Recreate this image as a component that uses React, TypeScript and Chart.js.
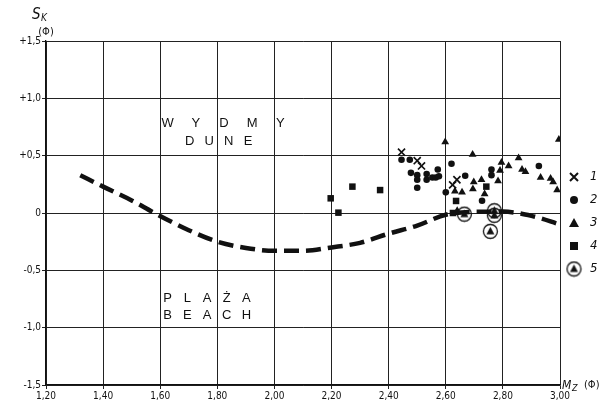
import React, { useEffect, useRef } from 'react';
import { Chart, registerables } from 'chart.js';

Chart.register(...registerables);

const xTickLabels = ['1,20', '1,40', '1,60', '1,80', '2,00', '2,20', '2,40', '2,60', '2,80', '3,00'];
const yTickLabels = ['-1,5', '-1,0', '-0,5', '0', '+0,5', '+1,0', '+1,5'];

const curveX = [1.32, 1.40, 1.50, 1.58, 1.70, 1.80, 1.90, 2.00, 2.10, 2.20, 2.30, 2.40, 2.50, 2.60, 2.70, 2.80, 2.90, 3.00];
const curveY = [0.33, 0.23, 0.11, 0.0, -0.15, -0.25, -0.305, -0.33, -0.33, -0.30, -0.26, -0.18, -0.11, -0.015, 0.01, 0.012, -0.025, -0.10];

const s1X = [2.445, 2.50, 2.515, 2.624, 2.639];
const s1Y = [0.53, 0.456, 0.41, 0.245, 0.29];

const s2X = [2.445, 2.474, 2.478, 2.50, 2.50, 2.533, 2.533, 2.553, 2.565, 2.576, 2.572, 2.50, 2.60, 2.62, 2.668, 2.76, 2.76, 2.727, 2.926];
const s2Y = [0.465, 0.465, 0.35, 0.33, 0.29, 0.34, 0.29, 0.31, 0.31, 0.32, 0.38, 0.22, 0.18, 0.43, 0.325, 0.38, 0.33, 0.107, 0.41];

const s3X = [2.598, 2.694, 2.795, 2.79, 2.783, 2.698, 2.725, 2.695, 2.632, 2.657, 2.736, 2.64, 2.996, 2.855, 2.82, 2.867, 2.879, 2.932, 2.967, 2.976, 2.99];
const s3Y = [0.62, 0.51, 0.44, 0.37, 0.28, 0.27, 0.29, 0.21, 0.19, 0.18, 0.165, 0.02, 0.64, 0.48, 0.41, 0.38, 0.36, 0.31, 0.30, 0.27, 0.20];

const s4X = [2.197, 2.224, 2.273, 2.37, 2.636, 2.742, 2.625];
const s4Y = [0.128, 0.003, 0.23, 0.20, 0.105, 0.23, 0.0];

const s5X = [2.665, 2.77, 2.77, 2.756];
const s5Y = [-0.01, 0.02, -0.02, -0.16];

const legendLabels = ['1', '2', '3', '4', '5'];

const toPts = (xs: number[], ys: number[]) => xs.map((x, i) => ({ x, y: ys[i] }));

function makeCircledTriangle(): HTMLCanvasElement {
  const c = document.createElement('canvas');
  c.width = 17;
  c.height = 17;
  const g = c.getContext('2d')!;
  g.strokeStyle = '#111';
  g.lineWidth = 1.3;
  g.beginPath();
  g.arc(8.5, 8.5, 7, 0, Math.PI * 2);
  g.stroke();
  g.fillStyle = '#111';
  g.beginPath();
  g.moveTo(8.5, 4);
  g.lineTo(12.5, 11.5);
  g.lineTo(4.5, 11.5);
  g.closePath();
  g.fill();
  return c;
}

function drawMarker(ctx: CanvasRenderingContext2D, kind: number, x: number, y: number, ct: HTMLCanvasElement) {
  ctx.save();
  ctx.fillStyle = '#111';
  ctx.strokeStyle = '#111';
  if (kind === 0) {
    ctx.lineWidth = 2;
    ctx.beginPath();
    ctx.moveTo(x - 4, y - 4);
    ctx.lineTo(x + 4, y + 4);
    ctx.moveTo(x + 4, y - 4);
    ctx.lineTo(x - 4, y + 4);
    ctx.stroke();
  } else if (kind === 1) {
    ctx.beginPath();
    ctx.arc(x, y, 4, 0, Math.PI * 2);
    ctx.fill();
  } else if (kind === 2) {
    ctx.beginPath();
    ctx.moveTo(x, y - 5);
    ctx.lineTo(x + 5, y + 4);
    ctx.lineTo(x - 5, y + 4);
    ctx.closePath();
    ctx.fill();
  } else if (kind === 3) {
    ctx.fillRect(x - 4, y - 4, 8, 8);
  } else {
    ctx.drawImage(ct, x - 8.5, y - 8.5);
  }
  ctx.restore();
}

export default function App() {
  const ref = useRef<HTMLCanvasElement | null>(null);

  useEffect(() => {
    document.body.style.margin = '0';
    const canvas = ref.current;
    if (!canvas) return;
    const circledTri = makeCircledTriangle();
    const tickFont = { family: '"DejaVu Sans Condensed", "DejaVu Sans", sans-serif', size: 10 };

    const textPlugin = {
      id: 'texts',
      afterDraw(chart: any) {
        const ctx: CanvasRenderingContext2D = chart.ctx;
        const xs = chart.scales.x;
        const ys = chart.scales.y;
        const area = chart.chartArea;
        ctx.save();
        ctx.fillStyle = '#111';
        ctx.textAlign = 'center';
        ctx.textBaseline = 'middle';
        ctx.font = '13px "Liberation Sans", sans-serif';
        const spaced = (txt: string, xv: number, yv: number, step: number) => {
          const x0 = xs.getPixelForValue(xv);
          const y0 = ys.getPixelForValue(yv);
          for (let i = 0; i < txt.length; i++) ctx.fillText(txt[i], x0 + i * step, y0);
        };
        spaced('WYDMY', 1.626, 0.785, 28.2);
        spaced('DUNE', 1.703, 0.62, 19.5);
        spaced('PLAŻA', 1.626, -0.745, 19.7);
        spaced('BEACH', 1.626, -0.89, 19.7);

        // y axis title
        ctx.textAlign = 'left';
        ctx.font = 'italic 15px "DejaVu Sans Condensed", sans-serif';
        ctx.fillText('S', area.left - 14, 15);
        ctx.font = 'italic 10px "DejaVu Sans Condensed", sans-serif';
        ctx.fillText('K', area.left - 5, 18);
        ctx.font = '11px "DejaVu Sans Condensed", sans-serif';
        ctx.textAlign = 'center';
        ctx.fillText('(Φ)', area.left, 32);

        // x axis title
        ctx.textAlign = 'left';
        ctx.font = 'italic 12px "DejaVu Sans Condensed", sans-serif';
        ctx.fillText('M', area.right + 2, area.bottom + 1);
        ctx.font = 'italic 9px "DejaVu Sans Condensed", sans-serif';
        ctx.fillText('Z', area.right + 12, area.bottom + 4);
        ctx.font = '11px "DejaVu Sans Condensed", sans-serif';
        ctx.fillText('(Φ)', area.right + 24, area.bottom);

        // legend
        for (let i = 0; i < legendLabels.length; i++) {
          const ly = 177 + i * 23;
          drawMarker(ctx, i, area.right + 14, ly, circledTri);
          ctx.font = 'italic 13px "DejaVu Sans Condensed", sans-serif';
          ctx.textAlign = 'left';
          ctx.fillStyle = '#111';
          ctx.fillText(legendLabels[i], area.right + 30, ly);
        }
        ctx.restore();
      },
    };

    const chart = new Chart(canvas, {
      type: 'scatter',
      data: {
        datasets: [
          {
            data: toPts(curveX, curveY),
            showLine: true,
            borderColor: '#111',
            borderWidth: 4.5,
            borderDash: [15, 7],
            borderCapStyle: 'butt',
            cubicInterpolationMode: 'monotone',
            pointRadius: 0,
            order: 5,
          } as any,
          { data: toPts(s1X, s1Y), pointStyle: 'crossRot', pointRadius: 5, borderColor: '#111', borderWidth: 1.7, backgroundColor: '#111' },
          { data: toPts(s2X, s2Y), pointStyle: 'circle', pointRadius: 3.3, borderWidth: 0, backgroundColor: '#111' },
          { data: toPts(s3X, s3Y), pointStyle: 'triangle', pointRadius: 4.5, borderWidth: 0, backgroundColor: '#111' },
          { data: toPts(s4X, s4Y), pointStyle: 'rect', pointRadius: 4.6, borderWidth: 0, backgroundColor: '#111' },
          { data: toPts(s5X, s5Y), pointStyle: circledTri, pointRadius: 8, borderWidth: 0, backgroundColor: '#111' },
        ],
      },
      options: {
        animation: false,
        responsive: false,
        maintainAspectRatio: false,
        layout: { padding: { top: 41, right: 51, bottom: 0, left: 0 } },
        plugins: { legend: { display: false }, tooltip: { enabled: false } },
        scales: {
          x: {
            type: 'linear',
            min: 1.2,
            max: 3.0,
            afterFit: (s: any) => { s.height = 22; },
            ticks: {
              stepSize: 0.2,
              autoSkip: false,
              maxRotation: 0,
              padding: 1,
              color: '#111',
              font: tickFont,
              callback: (_v: any, i: number) => xTickLabels[i],
            },
            grid: { color: '#222', lineWidth: 1, tickLength: 4 },
            border: { color: '#111', width: 1.3 },
          },
          y: {
            type: 'linear',
            min: -1.5,
            max: 1.5,
            afterFit: (s: any) => { s.width = 46; },
            ticks: {
              stepSize: 0.5,
              padding: 1,
              color: '#111',
              font: tickFont,
              callback: (_v: any, i: number) => yTickLabels[i],
            },
            grid: { color: '#222', lineWidth: 1, tickLength: 4 },
            border: { color: '#111', width: 1.3 },
          },
        },
      },
      plugins: [textPlugin],
    });
    return () => chart.destroy();
  }, []);

  return (
    <div style={{ width: 611, height: 407 }}>
      <canvas ref={ref} width={611} height={407} style={{ display: 'block', width: 611, height: 407 }} />
    </div>
  );
}
